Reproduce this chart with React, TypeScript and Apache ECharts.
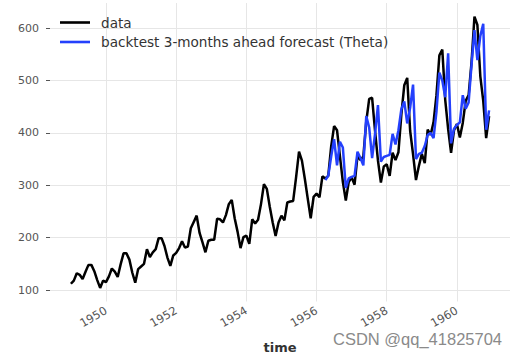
import React, { useEffect, useRef } from 'react';
import * as echarts from 'echarts';

const startYear = 1949;
// Monthly air passengers, 1949-01 .. 1960-12
const passengers = [
  112, 118, 132, 129, 121, 135, 148, 148, 136, 119, 104, 118,
  115, 126, 141, 135, 125, 149, 170, 170, 158, 133, 114, 140,
  145, 150, 178, 163, 172, 178, 199, 199, 184, 162, 146, 166,
  171, 180, 193, 181, 183, 218, 230, 242, 209, 191, 172, 194,
  196, 196, 236, 235, 229, 243, 264, 272, 237, 211, 180, 201,
  204, 188, 235, 227, 234, 264, 302, 293, 259, 229, 203, 229,
  242, 233, 267, 269, 270, 315, 364, 347, 312, 274, 237, 278,
  284, 277, 317, 313, 318, 374, 413, 405, 355, 306, 271, 306,
  315, 301, 356, 348, 355, 422, 465, 467, 404, 347, 305, 336,
  340, 318, 362, 348, 363, 435, 491, 505, 404, 359, 310, 337,
  360, 342, 406, 396, 420, 472, 548, 559, 463, 407, 362, 405,
  417, 391, 419, 461, 472, 535, 622, 606, 508, 461, 390, 432,
];
// Backtest forecast starts at 1956-04 (month index 87)
const forecastStartIndex = 87;
const forecast = [
  310, 318, 355, 388, 338, 383, 372, 295, 313,
  316, 318, 364, 352, 338, 432, 410, 352, 398, 453, 345, 354,
  356, 358, 398, 378, 405, 445, 460, 418, 448, 492, 350, 360,
  362, 375, 396, 400, 390, 440, 515, 500, 468, 552, 380, 408,
  415, 420, 472, 446, 458, 530, 596, 539, 585, 608, 406, 443,
];
const yearTicks = [1950, 1952, 1954, 1956, 1958, 1960];
const valueTicks = [100, 200, 300, 400, 500, 600];
const seriesNames = ['data', 'backtest 3-months ahead forecast (Theta)'];

export default function App() {
  const ref = useRef<HTMLDivElement>(null);
  useEffect(() => {
    const chart = echarts.init(ref.current!, null, { renderer: 'svg' });
    const dataPts = passengers.map((v, i) => [startYear + i / 12, v]);
    const fcPts = forecast.map((v, i) => [startYear + (forecastStartIndex + i) / 12, v]);
    const xMinD = startYear;
    const xMaxD = startYear + (passengers.length - 1) / 12;
    const xPad = (xMaxD - xMinD) * 0.05;
    const yMinD = Math.min(...passengers);
    const yMaxD = Math.max(...passengers);
    const yPad = (yMaxD - yMinD) * 0.05;
    const font = 'DejaVu Sans';
    chart.setOption({
      animation: false,
      backgroundColor: '#ffffff',
      grid: { left: 50, right: 8, top: 3, bottom: 55.5, containLabel: false, outerBoundsMode: 'none' },
      legend: {
        orient: 'vertical',
        left: 60,
        top: 15.5,
        padding: 0,
        icon: 'rect',
        itemWidth: 30,
        itemHeight: 2.6,
        itemGap: 5.5,
        data: seriesNames,
        textStyle: { fontSize: 13.6, color: '#333', fontFamily: font, padding: [0, 0, 0, 6] },
      },
      xAxis: {
        type: 'value',
        min: xMinD - xPad,
        max: xMaxD + xPad,
        axisLine: { show: false },
        axisTick: { show: false, customValues: yearTicks },
        axisLabel: {
          customValues: yearTicks,
          rotate: 30,
          margin: 8,
          fontSize: 11.5,
          color: '#555',
          fontFamily: font,
          formatter: (v: number) => String(Math.round(v)),
        },
        splitLine: { show: true, lineStyle: { color: '#e6e6e6', width: 1 } },
        name: 'time',
        nameLocation: 'middle',
        nameGap: 39,
        nameTextStyle: { fontWeight: 'bold', fontSize: 13, color: '#333', fontFamily: font },
      },
      yAxis: {
        type: 'value',
        min: yMinD - yPad,
        max: yMaxD + yPad,
        axisLine: { show: false },
        axisTick: { show: true, length: 4, customValues: valueTicks, lineStyle: { color: '#555', width: 1 } },
        axisLabel: {
          customValues: valueTicks,
          margin: 11,
          fontSize: 11,
          color: '#555',
          fontFamily: font,
          formatter: (v: number) => String(Math.round(v)),
        },
        splitLine: { show: true, lineStyle: { color: '#e6e6e6', width: 1 } },
      },
      graphic: [
        {
          type: 'text',
          left: 333,
          top: 330,
          style: { text: 'CSDN @qq_41825704', fontSize: 16.5, fill: '#8a8a8a', fontFamily: 'Liberation Sans' },
        },
      ],
      series: [
        {
          name: seriesNames[0],
          type: 'line',
          data: dataPts,
          symbol: 'none',
          lineStyle: { color: '#000000', width: 2.5 },
          itemStyle: { color: '#000000' },
        },
        {
          name: seriesNames[1],
          type: 'line',
          data: fcPts,
          symbol: 'none',
          lineStyle: { color: '#2440fc', width: 2.5 },
          itemStyle: { color: '#2440fc' },
        },
      ],
    });
    return () => chart.dispose();
  }, []);
  return (
    <div
      ref={ref}
      style={{ position: 'fixed', left: 0, top: 0, width: 518, height: 357, background: '#fff' }}
    />
  );
}
